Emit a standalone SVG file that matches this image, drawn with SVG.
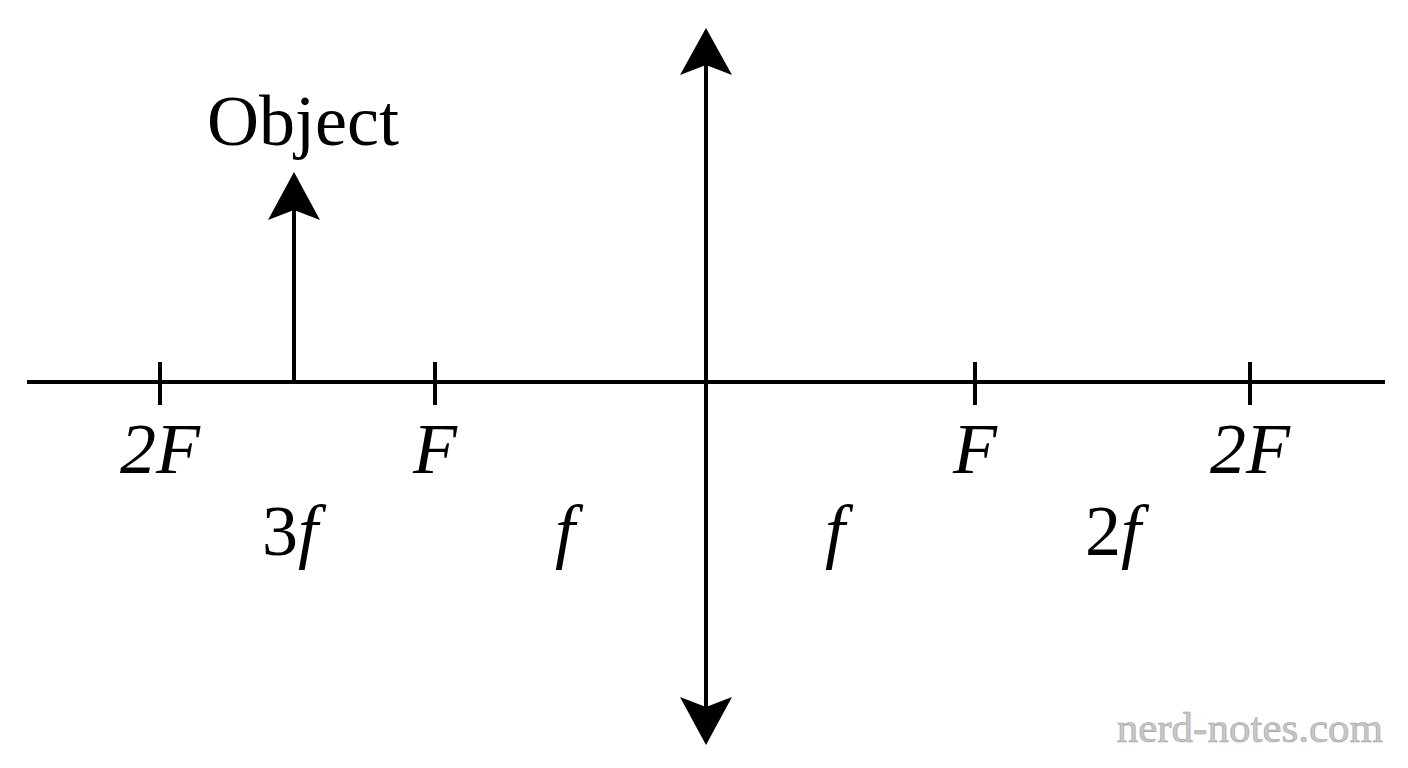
<svg xmlns="http://www.w3.org/2000/svg" width="1408" height="768" viewBox="0 0 1408 768">
<style>
.l{stroke:#000;stroke-width:4;fill:none}
.t{font-family:"Liberation Serif",serif;font-size:72px;fill:#000;text-anchor:middle}
.i{font-style:italic}
</style>
<rect width="1408" height="768" fill="#fff"/>
<g id="connectors">
<line class="l" x1="27" y1="382" x2="1385" y2="382"/>
<line class="l" x1="160" y1="362" x2="160" y2="405"/>
<line class="l" x1="435" y1="362" x2="435" y2="405"/>
<line class="l" x1="975" y1="362" x2="975" y2="405"/>
<line class="l" x1="1250" y1="362" x2="1250" y2="405"/>
</g>
<g id="lens">
<line class="l" x1="706" y1="60" x2="706" y2="710"/>
<polygon points="706,28 732,75 706,65 680,75" fill="#000"/>
<polygon points="706,745 732,697 706,707 680,697" fill="#000"/>
</g>
<g id="object">
<line class="l" x1="294" y1="382" x2="294" y2="210"/>
<polygon points="294,172 320,220 294,210 268,220" fill="#000"/>
<text class="t" x="303" y="145">Object</text>
</g>
<g id="labels">
<text class="t i" x="160" y="473">2F</text>
<text class="t i" x="435" y="473">F</text>
<text class="t i" x="975" y="473">F</text>
<text class="t i" x="1250" y="473">2F</text>
<text class="t" x="290" y="555">3<tspan class="i">f</tspan></text>
<text class="t i" x="565" y="555">f</text>
<text class="t i" x="835" y="555">f</text>
<text class="t" x="1113" y="555">2<tspan class="i">f</tspan></text>
</g>
<text x="1383" y="742" font-family="Liberation Serif,serif" font-size="43" fill="#c8c8c8" stroke="#a0a0a0" stroke-width="0.6" text-anchor="end">nerd-notes.com</text>
</svg>
